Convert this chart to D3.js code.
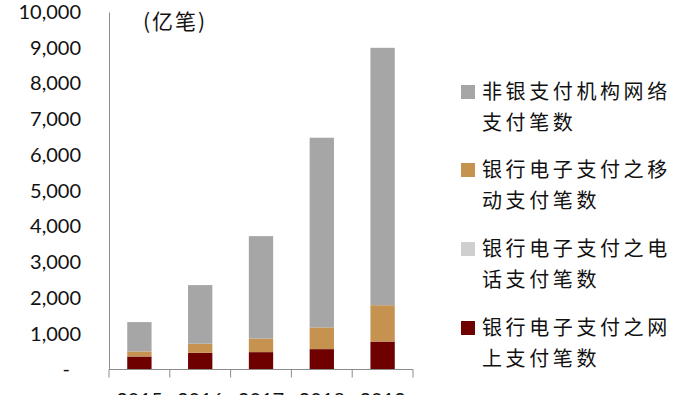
<!DOCTYPE html>
<html><head><meta charset="utf-8">
<script src="https://cdnjs.cloudflare.com/ajax/libs/d3/7.8.5/d3.min.js"></script>
<style>body{margin:0;background:#fff}svg{display:block}</style>
</head><body>
<svg id="c" width="692" height="395"></svg>
<script>
const years = ["2015","2016","2017","2018","2019"];
const online = [364, 462, 486, 570, 782];        // 银行电子支付之网上支付笔数
const phone = [3, 3, 2, 2, 2];                   // 银行电子支付之电话支付笔数
const mobile = [138, 257, 376, 605, 1014];       // 银行电子支付之移动支付笔数
const nonbank = [821, 1639, 2867, 5306, 7200];   // 非银支付机构网络支付笔数
const yTicks = [0,1000,2000,3000,4000,5000,6000,7000,8000,9000,10000];
const seriesNames = ["银行电子支付之网上支付笔数","银行电子支付之电话支付笔数","银行电子支付之移动支付笔数","非银支付机构网络支付笔数"];
const legendLines = [["非银支付机构网络","支付笔数"],["银行电子支付之移","动支付笔数"],["银行电子支付之电","话支付笔数"],["银行电子支付之网","上支付笔数"]];
const colors = ["#6E0000","#CFCFCF","#C5924F","#A6A6A6"];
const legendColors = ["#A6A6A6","#C5924F","#CFCFCF","#6E0000"];

const svg = d3.select("#c");
const x0 = 109, x1 = 413, yTop = 12, yBase = 369.5;
const x = d3.scaleBand().domain(years).range([x0, x1]).paddingInner(0.6).paddingOuter(0.3);
const y = d3.scaleLinear().domain([0, 10000]).range([yBase, yTop]);

const rows = years.map((yr,i)=>({year:yr, s0:online[i], s1:phone[i], s2:mobile[i], s3:nonbank[i]}));
const stack = d3.stack().keys(["s0","s1","s2","s3"])(rows);

svg.selectAll("g.layer").data(stack).join("g").attr("fill",(d,i)=>colors[i])
  .selectAll("rect").data(d=>d).join("rect")
  .attr("x", d=>x(d.data.year)).attr("width", x.bandwidth())
  .attr("y", d=>y(d[1])).attr("height", d=>y(d[0])-y(d[1]));

// y axis
const yAxis = svg.append("g").attr("transform",`translate(${x0},0)`)
  .call(d3.axisLeft(y).tickValues(yTicks).tickSize(0).tickPadding(28)
    .tickFormat(v=> v===0 ? "-" : d3.format(",")(v)));
yAxis.select(".domain").attr("stroke","#8c8c8c");
yAxis.selectAll("text").attr("font-family","Lato, 'Liberation Sans', sans-serif").attr("font-size",20).attr("fill","#111");
yAxis.selectAll(".tick").filter(d=>d===0).select("text").attr("dx",-11);

// x axis
const xAxis = svg.append("g").attr("transform",`translate(0,${yBase})`)
  .call(d3.axisBottom(x).tickSize(0).tickPadding(23));
xAxis.select(".domain").attr("d",`M${x0},0H${x1}`).attr("stroke","#8c8c8c");
xAxis.selectAll("text").attr("font-family","Lato, 'Liberation Sans', sans-serif").attr("font-size",20).attr("fill","#111");
const tickPos = d3.range(years.length+1).map(i=>x0 + i*(x1-x0)/years.length);
xAxis.selectAll("line.sep").data(tickPos).join("line").attr("class","sep")
  .attr("x1",d=>d).attr("x2",d=>d).attr("y1",0).attr("y2",8).attr("stroke","#8c8c8c");

// unit label
svg.append("text").attr("x",143).attr("y",29).text("(亿笔)")
  .attr("font-family","'Noto Sans CJK SC', sans-serif").attr("font-size",21).attr("letter-spacing",2).attr("fill","#111");

// legend
const lg = svg.append("g");
const ly = [92, 170, 249, 328];
legendLines.forEach((lines,i)=>{
  lg.append("rect").attr("x",461).attr("y",ly[i]-7).attr("width",14).attr("height",14).attr("fill",legendColors[i]);
  lines.forEach((t,j)=>{
    lg.append("text").attr("x",482).attr("y",ly[i]+j*31).attr("dy","0.35em").text(t)
      .attr("font-family","'Noto Sans CJK SC', sans-serif").attr("font-size",20).attr("letter-spacing",3.6).attr("fill","#111");
  });
});
</script>
</body></html>
